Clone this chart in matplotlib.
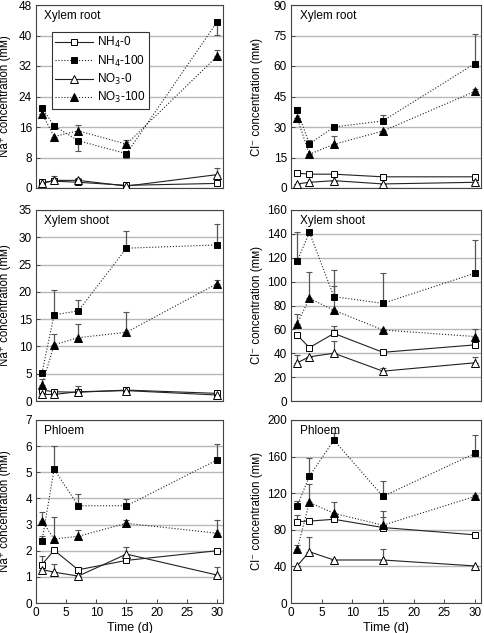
import matplotlib
matplotlib.use("Agg")
import matplotlib.pyplot as plt

plt.rcParams['font.family'] = ['Liberation Sans', 'DejaVu Sans']

days = [1, 3, 7, 15, 30]
series_names = ["NH$_4$-0", "NH$_4$-100", "NO$_3$-0", "NO$_3$-100"]

# error values: + means bar drawn upward, - means downward
# Xylem root, Na+
root_na_nh4_0 = [1.5, 1.8, 1.5, 0.7, 1.2]
root_na_nh4_0_err = [0, 0, 0, 0, 0]
root_na_nh4_100 = [21.0, 16.3, 12.4, 9.0, 43.5]
root_na_nh4_100_err = [0, 0, -2.6, -1.0, -3.3]
root_na_no3_0 = [1.2, 2.0, 2.0, 0.5, 3.5]
root_na_no3_0_err = [0, 1.2, 0.5, 0, 1.8]
root_na_no3_100 = [19.5, 13.5, 15.0, 11.5, 34.5]
root_na_no3_100_err = [0, -1.3, 1.6, 1.0, 1.8]

# Xylem root, Cl-
root_cl_nh4_0 = [7.3, 6.8, 6.8, 5.5, 5.5]
root_cl_nh4_0_err = [0, 0, 0, 0, 0]
root_cl_nh4_100 = [38.3, 21.7, 30.0, 33.0, 61.2]
root_cl_nh4_100_err = [1.5, 2.0, 0, 2.7, 14.5]
root_cl_no3_0 = [2.0, 2.8, 3.6, 2.0, 2.8]
root_cl_no3_0_err = [0, 0, 0, 0, 0]
root_cl_no3_100 = [34.5, 16.6, 21.5, 28.0, 47.5]
root_cl_no3_100_err = [0, 0, 4.2, 0, 1.0]

# Xylem shoot, Na+
shoot_na_nh4_0 = [2.0, 1.7, 1.6, 2.0, 1.4]
shoot_na_nh4_0_err = [0, 0, 0, 0, 0]
shoot_na_nh4_100 = [5.2, 15.8, 16.5, 28.0, 28.6]
shoot_na_nh4_100_err = [0, 4.5, 2.0, 3.2, 3.8]
shoot_na_no3_0 = [1.2, 1.2, 1.7, 1.9, 1.1]
shoot_na_no3_0_err = [0, 0, 1.0, 0, 0]
shoot_na_no3_100 = [2.9, 10.3, 11.6, 12.6, 21.5]
shoot_na_no3_100_err = [1.1, 1.9, 2.5, 3.7, 0.6]

# Xylem shoot, Cl-
shoot_cl_nh4_0 = [55.3, 44.7, 56.6, 40.8, 47.0]
shoot_cl_nh4_0_err = [0, 0, 6.2, 0, 0]
shoot_cl_nh4_100 = [117.0, 141.3, 87.4, 81.8, 107.0]
shoot_cl_nh4_100_err = [24.6, 0, 22.3, 25.1, 27.5]
shoot_cl_no3_0 = [32.0, 37.0, 40.0, 25.0, 32.0]
shoot_cl_no3_0_err = [6.5, 0, 10.5, 3.0, 4.5]
shoot_cl_no3_100 = [64.5, 86.0, 76.0, 59.5, 54.0]
shoot_cl_no3_100_err = [8.5, 22.0, 20.7, 0, 6.0]

# Phloem, Na+
phl_na_nh4_0 = [1.47, 2.02, 1.27, 1.63, 2.0]
phl_na_nh4_0_err = [0.33, 0, 0, 0, 0]
phl_na_nh4_100 = [2.38, 5.12, 3.72, 3.72, 5.47]
phl_na_nh4_100_err = [0.18, 0.9, 0.45, 0.25, 0.62]
phl_na_no3_0 = [1.28, 1.18, 1.03, 1.87, 1.07]
phl_na_no3_0_err = [0, 0.31, 0, 0.28, 0.32]
phl_na_no3_100 = [3.14, 2.45, 2.55, 3.05, 2.67]
phl_na_no3_100_err = [0.33, 0.85, 0.25, 0.12, 0.5]

# Phloem, Cl-
phl_cl_nh4_0 = [89.0, 89.5, 91.5, 82.5, 74.5]
phl_cl_nh4_0_err = [7.0, 0, 0, 11.5, 0]
phl_cl_nh4_100 = [106.0, 138.5, 178.0, 116.5, 163.5]
phl_cl_nh4_100_err = [5.0, 19.5, 7.5, 17.0, 20.0]
phl_cl_no3_0 = [40.5, 56.0, 47.0, 47.0, 40.5]
phl_cl_no3_0_err = [0, 16.0, 0, 12.5, 0]
phl_cl_no3_100 = [58.5, 110.0, 98.0, 85.0, 116.5]
phl_cl_no3_100_err = [4.5, 20.0, 12.0, 16.0, 2.0]

panel_titles = ["Xylem root", "Xylem root", "Xylem shoot", "Xylem shoot", "Phloem", "Phloem"]
y_limits = [(0, 48), (0, 90), (0, 35), (0, 160), (0, 7), (0, 200)]
y_steps = [8, 15, 5, 20, 1, 40]
na_label = "Na\u207a concentration (m\u1d0d)"
cl_label = "Cl\u207b concentration (m\u1d0d)"

panels = [
    [(root_na_nh4_0, root_na_nh4_0_err), (root_na_nh4_100, root_na_nh4_100_err),
     (root_na_no3_0, root_na_no3_0_err), (root_na_no3_100, root_na_no3_100_err)],
    [(root_cl_nh4_0, root_cl_nh4_0_err), (root_cl_nh4_100, root_cl_nh4_100_err),
     (root_cl_no3_0, root_cl_no3_0_err), (root_cl_no3_100, root_cl_no3_100_err)],
    [(shoot_na_nh4_0, shoot_na_nh4_0_err), (shoot_na_nh4_100, shoot_na_nh4_100_err),
     (shoot_na_no3_0, shoot_na_no3_0_err), (shoot_na_no3_100, shoot_na_no3_100_err)],
    [(shoot_cl_nh4_0, shoot_cl_nh4_0_err), (shoot_cl_nh4_100, shoot_cl_nh4_100_err),
     (shoot_cl_no3_0, shoot_cl_no3_0_err), (shoot_cl_no3_100, shoot_cl_no3_100_err)],
    [(phl_na_nh4_0, phl_na_nh4_0_err), (phl_na_nh4_100, phl_na_nh4_100_err),
     (phl_na_no3_0, phl_na_no3_0_err), (phl_na_no3_100, phl_na_no3_100_err)],
    [(phl_cl_nh4_0, phl_cl_nh4_0_err), (phl_cl_nh4_100, phl_cl_nh4_100_err),
     (phl_cl_no3_0, phl_cl_no3_0_err), (phl_cl_no3_100, phl_cl_no3_100_err)],
]

# marker, fill, linestyle for each series
styles = [("s", "white", "-"), ("s", "black", ":"), ("^", "white", "-"), ("^", "black", ":")]

W, H = 484, 633
fig = plt.figure(figsize=(W / 100, H / 100), dpi=100)

# pixel boxes (left, top, right, bottom)
col_x = [(36, 223), (291, 481)]
row_y = [(5, 188), (210, 401), (420, 603)]
label_x = [11, 263]

for i in range(6):
    r, c = divmod(i, 2)
    x0, x1 = col_x[c]
    y0, y1 = row_y[r]
    ax = fig.add_axes([x0 / W, 1 - y1 / H, (x1 - x0) / W, (y1 - y0) / H])
    ymin, ymax = y_limits[i]
    ax.set_ylim(ymin, ymax)
    ax.set_xlim(0, 31)
    ax.set_yticks(range(ymin, ymax + 1, y_steps[i]))
    ax.grid(axis="y", color="#b8b8b8", linewidth=1.0)
    ax.set_axisbelow(True)
    for s in ax.spines.values():
        s.set_color("#444444")
        s.set_linewidth(0.8)
    ax.tick_params(direction="in", length=3, width=0.7, color="#444444", labelsize=8.5, pad=3)
    if r < 2:
        ax.set_xticks([])
    else:
        ax.set_xticks([0, 5, 10, 15, 20, 25, 30])
        ax.set_xlabel("Time (d)", fontsize=9, labelpad=2)
    ax.set_ylabel(na_label if c == 0 else cl_label, fontsize=8.3)
    ax.yaxis.set_label_coords((label_x[c] - x0) / (x1 - x0), 0.5)
    ax.text(0.045, 0.975, panel_titles[i], transform=ax.transAxes, va="top", ha="left", fontsize=8.5)

    handles = []
    for k, (vals, err) in enumerate(panels[i]):
        lower = [-e if e < 0 else 0 for e in err]
        upper = [e if e > 0 else 0 for e in err]
        ax.errorbar(days, vals, yerr=[lower, upper], fmt="none", ecolor="#555555",
                    elinewidth=0.9, capsize=2.5, capthick=0.8, zorder=2)
        m, fc, ls = styles[k]
        h, = ax.plot(days, vals, linestyle=ls, color="#222222", linewidth=0.8,
                     marker=m, markersize=4.8 if m == "s" else 5.3, markerfacecolor=fc,
                     markeredgecolor="black", markeredgewidth=0.7, zorder=3,
                     label=series_names[k])
        handles.append(h)

    if i == 0:
        leg = ax.legend(handles=handles, loc="upper left", bbox_to_anchor=(0.085, 0.855),
                        fontsize=8.5, frameon=True, fancybox=False, framealpha=1,
                        edgecolor="#333333", handlelength=3.2, handletextpad=0.3,
                        borderpad=0.3, labelspacing=0.28, borderaxespad=0)
        leg.get_frame().set_linewidth(0.8)

fig.savefig("out.png", dpi=100)
